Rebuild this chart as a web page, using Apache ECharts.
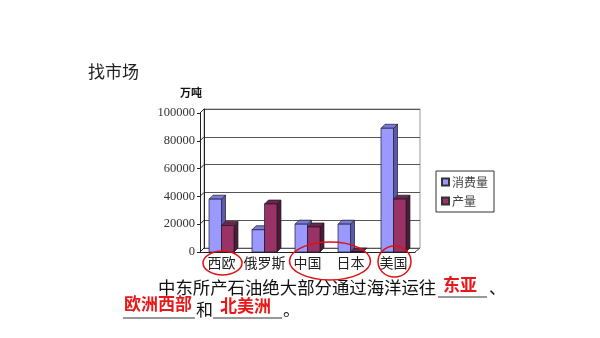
<!DOCTYPE html>
<html><head><meta charset="utf-8">
<script src="https://cdn.jsdelivr.net/npm/echarts@6/dist/echarts.min.js"></script>
<style>html,body{margin:0;padding:0;background:#fff}#c{width:600px;height:338px}</style>
</head><body><div id="c"></div>
<script>
const categories = ['西欧', '俄罗斯', '中国', '日本', '美国'];
const consumption = [38000, 16000, 20000, 20000, 89000];
const production = [19000, 34500, 18000, 0, 38000];
const seriesNames = ['消费量', '产量'];
const yTicks = [0, 20000, 40000, 60000, 80000, 100000];

const chart = echarts.init(document.getElementById('c'), null, {renderer: 'canvas'});
const D = 4; // depth offset
const palettes = [
  {front: '#9999FF', side: '#5a5aa8', top: '#7b7bd8'},
  {front: '#993366', side: '#4f1a35', top: '#6e2549'}
];
function barRender(sIdx) {
  return function (params, api) {
    const cx = api.coord([api.value(0), 0])[0];
    const y0 = api.coord([api.value(0), 0])[1];
    const y1 = api.coord([api.value(0), api.value(1)])[1];
    const bw = api.size([1, 0])[0] * 0.29;
    const x0 = sIdx === 0 ? cx - bw : cx;
    const x1 = x0 + bw;
    const p = palettes[sIdx];
    const st = {stroke: '#1a1a2a', lineWidth: 0.7};
    return {type: 'group', children: [
      {type: 'polygon', shape: {points: [[x1, y1], [x1 + D, y1 - D], [x1 + D, y0 - D], [x1, y0]]}, style: Object.assign({fill: p.side}, st)},
      {type: 'polygon', shape: {points: [[x0, y1], [x0 + D, y1 - D], [x1 + D, y1 - D], [x1, y1]]}, style: Object.assign({fill: p.top}, st)},
      {type: 'rect', shape: {x: x0, y: y1, width: bw, height: y0 - y1}, style: Object.assign({fill: p.front}, st)}
    ]};
  };
}
function tickRender(params, api) {
  const cs = params.coordSys;
  const y = api.coord([0, api.value(0)])[1];
  return {type: 'line', shape: {x1: cs.x, y1: y, x2: cs.x + D, y2: y - D}, style: {stroke: '#222', lineWidth: 1}};
}
const serifFont = '"Liberation Serif","DejaVu Serif",serif';
const cjk = '"Noto Sans CJK SC","Noto Sans",sans-serif';

const option = {
  backgroundColor: '#fff',
  animation: false,
  grid: [
    {left: 204, top: 109, right: 180, bottom: 90, show: true, borderColor: '#999', borderWidth: 1, backgroundColor: 'transparent'},
    {left: 200, top: 113, right: 185, bottom: 86}
  ],
  xAxis: [
    {gridIndex: 0, type: 'category', data: categories, show: false},
    {gridIndex: 1, type: 'category', data: categories,
      axisLine: {show: true, lineStyle: {color: '#222', width: 1}},
      axisTick: {show: false},
      axisLabel: {color: '#222', fontSize: 14, fontFamily: cjk, margin: 4, interval: 0, hideOverlap: false}}
  ],
  yAxis: [
    {gridIndex: 0, type: 'value', min: 0, max: 100000, interval: 20000,
      axisLine: {show: true, lineStyle: {color: '#222'}}, axisTick: {show: false}, axisLabel: {show: false},
      splitLine: {show: true, lineStyle: {color: '#555', width: 1}}},
    {gridIndex: 1, type: 'value', min: 0, max: 100000, interval: 20000,
      axisLine: {show: true, lineStyle: {color: '#222', width: 1}},
      axisTick: {show: true, inside: false, length: 3, lineStyle: {color: '#222'}},
      axisLabel: {color: '#333', fontSize: 12.5, fontFamily: serifFont, margin: 5, formatter: v => String(v)},
      splitLine: {show: false}}
  ],
  legend: {
    orient: 'vertical', left: 436, top: 171,
    data: seriesNames,
    icon: 'rect', itemWidth: 7, itemHeight: 7, itemGap: 7,
    padding: [5, 6, 5, 5],
    borderColor: '#333', borderWidth: 1,
    textStyle: {color: '#444', fontSize: 12, fontFamily: cjk, padding: [0, 0, 0, -2]}
  },
  series: [
    {name: 'ticks', type: 'custom', xAxisIndex: 1, yAxisIndex: 1, data: yTicks.map(v => [v]), renderItem: tickRender, silent: true, z: 1},
    {name: seriesNames[0], type: 'custom', xAxisIndex: 1, yAxisIndex: 1,
      itemStyle: {color: '#9999FF', borderColor: '#333', borderWidth: 1},
      data: consumption.map((v, i) => [i, v]), renderItem: barRender(0), z: 3},
    {name: seriesNames[1], type: 'custom', xAxisIndex: 1, yAxisIndex: 1,
      itemStyle: {color: '#993366', borderColor: '#333', borderWidth: 1},
      data: production.map((v, i) => [i, v]), renderItem: barRender(1), z: 4}
  ],
  graphic: [
    {type: 'text', left: 88, top: 63, style: {text: '找市场', font: '17px ' + cjk, fill: '#222'}},
    {type: 'text', left: 180, top: 87, style: {text: '万吨', font: 'bold 11px ' + cjk, fill: '#111'}},
    {type: 'line', shape: {x1: 200, y1: 252, x2: 204, y2: 248}, style: {stroke: '#222', lineWidth: 1}},
    {type: 'line', shape: {x1: 415, y1: 252, x2: 420, y2: 248}, style: {stroke: '#444', lineWidth: 1}},
    {type: 'ellipse', shape: {cx: 222.5, cy: 263, rx: 19.5, ry: 12}, style: {fill: 'none', stroke: '#e01010', lineWidth: 1.5}, z: 10},
    {type: 'ellipse', shape: {cx: 330, cy: 261, rx: 40.5, ry: 19}, style: {fill: 'none', stroke: '#e01010', lineWidth: 1.5}, z: 10},
    {type: 'ellipse', shape: {cx: 394.5, cy: 261.5, rx: 16.5, ry: 15.5}, style: {fill: 'none', stroke: '#e01010', lineWidth: 1.5}, z: 10},
    {type: 'text', left: 158, top: 279, style: {text: '中东所产石油绝大部分通过海洋运往', font: '17.4px ' + cjk, fill: '#111'}},
    {type: 'line', shape: {x1: 438, y1: 297, x2: 487, y2: 297}, style: {stroke: '#333', lineWidth: 1}},
    {type: 'text', left: 443, top: 276, style: {text: '东亚', font: 'bold 17px ' + cjk, fill: '#e81818'}},
    {type: 'text', left: 489, top: 279, style: {text: '、', font: '17px ' + cjk, fill: '#111'}},
    {type: 'line', shape: {x1: 123, y1: 318, x2: 195, y2: 318}, style: {stroke: '#333', lineWidth: 1}},
    {type: 'text', left: 124, top: 295, style: {text: '欧洲西部', font: 'bold 17px ' + cjk, fill: '#e81818'}},
    {type: 'text', left: 196, top: 301, style: {text: '和', font: '17px ' + cjk, fill: '#111'}},
    {type: 'line', shape: {x1: 213, y1: 318, x2: 282, y2: 318}, style: {stroke: '#333', lineWidth: 1}},
    {type: 'text', left: 220, top: 297, style: {text: '北美洲', font: 'bold 17px ' + cjk, fill: '#e81818'}},
    {type: 'text', left: 283, top: 301, style: {text: '。', font: '17px ' + cjk, fill: '#111'}}
  ]
};
chart.setOption(option);
</script></body></html>
